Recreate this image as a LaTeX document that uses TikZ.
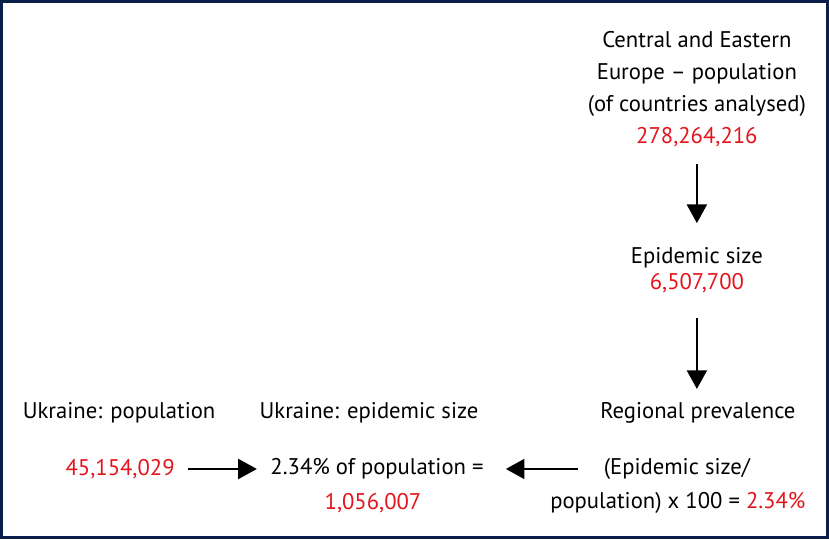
\documentclass[tikz,border=0pt]{standalone}
\usepackage{fontspec}
\setmainfont{PT Sans}
\usetikzlibrary{arrows.meta}
\definecolor{navy}{HTML}{0B1F4B}
\definecolor{numred}{HTML}{E3141B}

\begin{document}
\begin{tikzpicture}[x=0.75pt, y=-0.75pt,
    every node/.style={font=\fontsize{17}{24}\selectfont, inner sep=0pt, align=center},
    num/.style={text=numred},
    flow/.style={-{Triangle[width=15pt,length=14pt]}, line width=1.5pt, black}]
    % Frame
    \draw[navy, line width=2.5pt] (1.5, 1.5) rectangle (827.5, 537.5);

    % Regional chain
    \node (cee) at (697, 89) {Central and Eastern\\Europe -- population\\(of countries analysed)\\\textcolor{numred}{278,264,216}};
    \node (epi) at (697, 270) {Epidemic size\\[-4.5pt]\textcolor{numred}{6,507,700}};
    \node (reg) at (698, 413) {Regional prevalence};
    \node (calc) at (677, 469) {(Epidemic size/};
    \node (calcend) at (678, 503) {population) x 100 = \textcolor{numred}{2.34\%}};

    % Ukraine
    \node (ukrpop) at (119, 413) {Ukraine: population};
    \node (ukrepi) at (369, 413) {Ukraine: epidemic size};
    \node[num] (popnum) at (120, 469) {45,154,029};
    \node (share) at (377, 469) {2.34\% of population =};
    \node[num] (epinum) at (373, 503) {1,056,007};

    % Arrows
    \draw[flow, shorten <=13pt, shorten >=18pt] (cee) -- (epi);
    \draw[flow, shorten <=19pt, shorten >=10pt] (epi.south) -- (epi.south |- reg.north);
    \draw[flow, shorten <=10pt, shorten >=10pt] (popnum) -- (share);
    \draw[flow, shorten <=19pt, shorten >=16.5pt] (calc) -- (share);
\end{tikzpicture}
\end{document}
